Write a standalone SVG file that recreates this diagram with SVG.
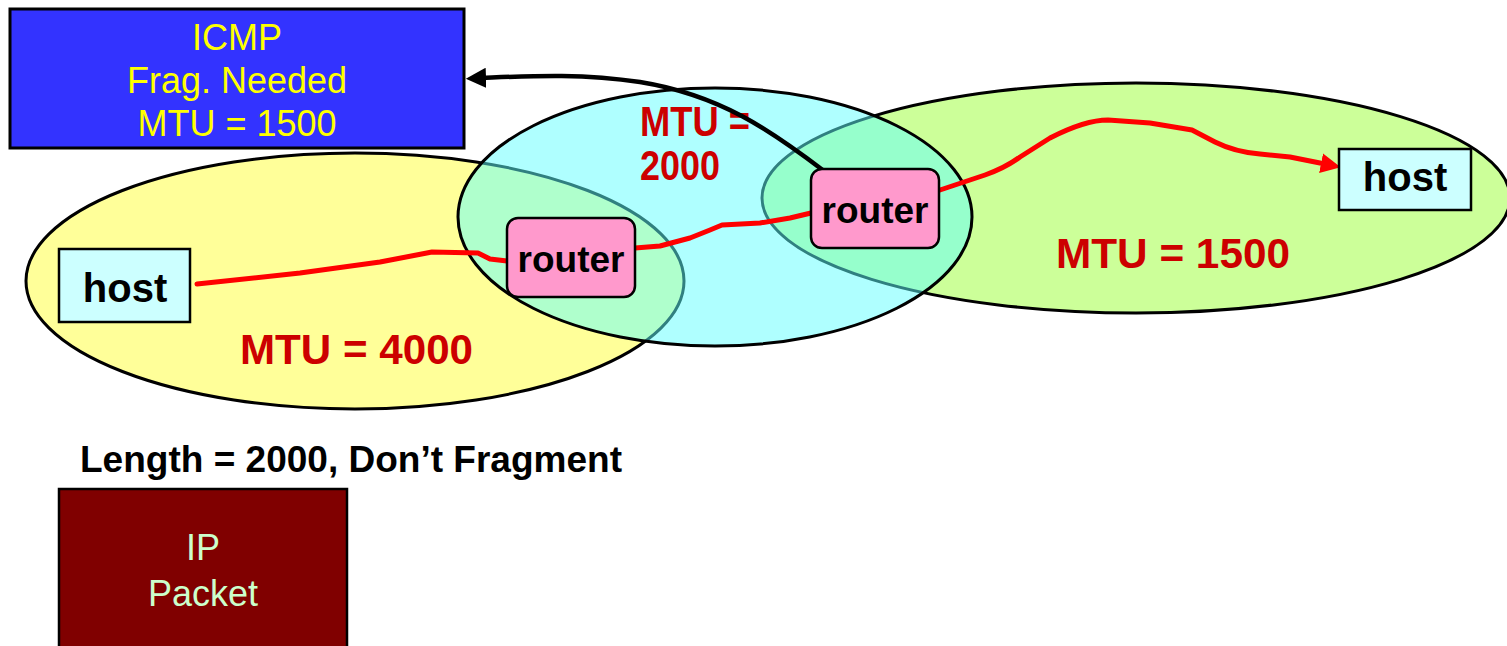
<svg xmlns="http://www.w3.org/2000/svg" width="1507" height="646" viewBox="0 0 1507 646">
<style>
.net{stroke:#000;stroke-width:3}
.mtu{font-family:"Liberation Sans",Arial,sans-serif;font-weight:bold;fill:#CC0000;font-size:42px}
.lbl{font-family:"Liberation Sans",Arial,sans-serif;font-weight:bold;fill:#000;text-anchor:middle}
.host{fill:#CCFFFF;stroke:#000;stroke-width:2.5}
.router{fill:#FF99CC;stroke:#000;stroke-width:2.5}
.path{fill:none;stroke:#FF0000;stroke-width:5;stroke-linejoin:round;stroke-linecap:round}
.reg{font-family:"Liberation Sans",Arial,sans-serif;text-anchor:middle;font-size:36px}
</style>
<defs>
<marker id="ab" viewBox="0 0 10 10" refX="2" refY="5" markerWidth="4.5" markerHeight="4.5" orient="auto" markerUnits="strokeWidth"><path d="M0,0 L10,5 L0,10 z" fill="#000"/></marker>
<marker id="ar" viewBox="0 0 10 10" refX="2" refY="5" markerWidth="4" markerHeight="4" orient="auto" markerUnits="strokeWidth"><path d="M0,0 L10,5 L0,10 z" fill="#FF0000"/></marker>
</defs>
<rect width="1507" height="646" fill="#fff"/>
<g id="networks">
<ellipse id="net4000" class="net" cx="355" cy="281" rx="329" ry="128" fill="#FFFF99"/>
<ellipse id="net1500" class="net" cx="1136" cy="198" rx="374" ry="115" fill="#CCFF99"/>
<ellipse id="net2000" class="net" cx="715" cy="217" rx="257" ry="129" fill="#5FFFFF" fill-opacity="0.5"/>
</g>
<g id="mtu-labels">
<text class="mtu" x="240" y="364" textLength="233" lengthAdjust="spacingAndGlyphs">MTU = 4000</text>
<text class="mtu" x="1056" y="268" textLength="234" lengthAdjust="spacingAndGlyphs">MTU = 1500</text>
<text class="mtu" x="640" y="136" font-size="38" textLength="110" lengthAdjust="spacingAndGlyphs">MTU =</text>
<text class="mtu" x="640" y="180" font-size="38" textLength="80" lengthAdjust="spacingAndGlyphs">2000</text>
</g>
<g id="connectors">
<path class="path" d="M197 284 L300 273 L380 262 L432 252 L478 253 L490 259 L507 261"/>
<path class="path" d="M635 248 L660 246 L690 238 L710 230 L722 225 L760 223 L790 218 L811 213"/>
<path class="path" d="M940 190 L985 175 Q1005 168 1020 157 L1050 138 Q1085 120 1108 120 L1150 123 L1192 130 L1215 142 Q1235 152 1260 154 L1290 157 L1325 164" marker-end="url(#ar)"/>
<path fill="none" stroke="#000" stroke-width="4.5" d="M824 171 C770 130 720 95 640 82 C580 73 530 76 482 78" marker-end="url(#ab)"/>
</g>
<g id="icmp">
<rect x="10" y="9" width="454" height="139" fill="#3333FF" stroke="#000" stroke-width="3"/>
<text class="reg" fill="#FFFF00"><tspan x="237" y="50">ICMP</tspan><tspan x="237" y="93">Frag. Needed</tspan><tspan x="237" y="136">MTU = 1500</tspan></text>
</g>
<g id="host1">
<rect class="host" x="59" y="249" width="131" height="73"/>
<text class="lbl" x="125" y="302" font-size="40">host</text>
</g>
<g id="host2">
<rect class="host" x="1339" y="149" width="132" height="61"/>
<text class="lbl" x="1405" y="191" font-size="40">host</text>
</g>
<g id="router1">
<rect class="router" x="507" y="218" width="128" height="79" rx="11"/>
<text class="lbl" x="571" y="272" font-size="37">router</text>
</g>
<g id="router2">
<rect class="router" x="811" y="169" width="128" height="79" rx="11"/>
<text class="lbl" x="875" y="223" font-size="37">router</text>
</g>
<g id="packet">
<text class="lbl" x="351" y="472" font-size="36" textLength="542" lengthAdjust="spacingAndGlyphs">Length = 2000, Don’t Fragment</text>
<rect x="59" y="489" width="288" height="170" fill="#800000" stroke="#000" stroke-width="2.5"/>
<text class="reg" fill="#CCFFCC"><tspan x="203" y="560">IP</tspan><tspan x="203" y="606">Packet</tspan></text>
</g>
</svg>
